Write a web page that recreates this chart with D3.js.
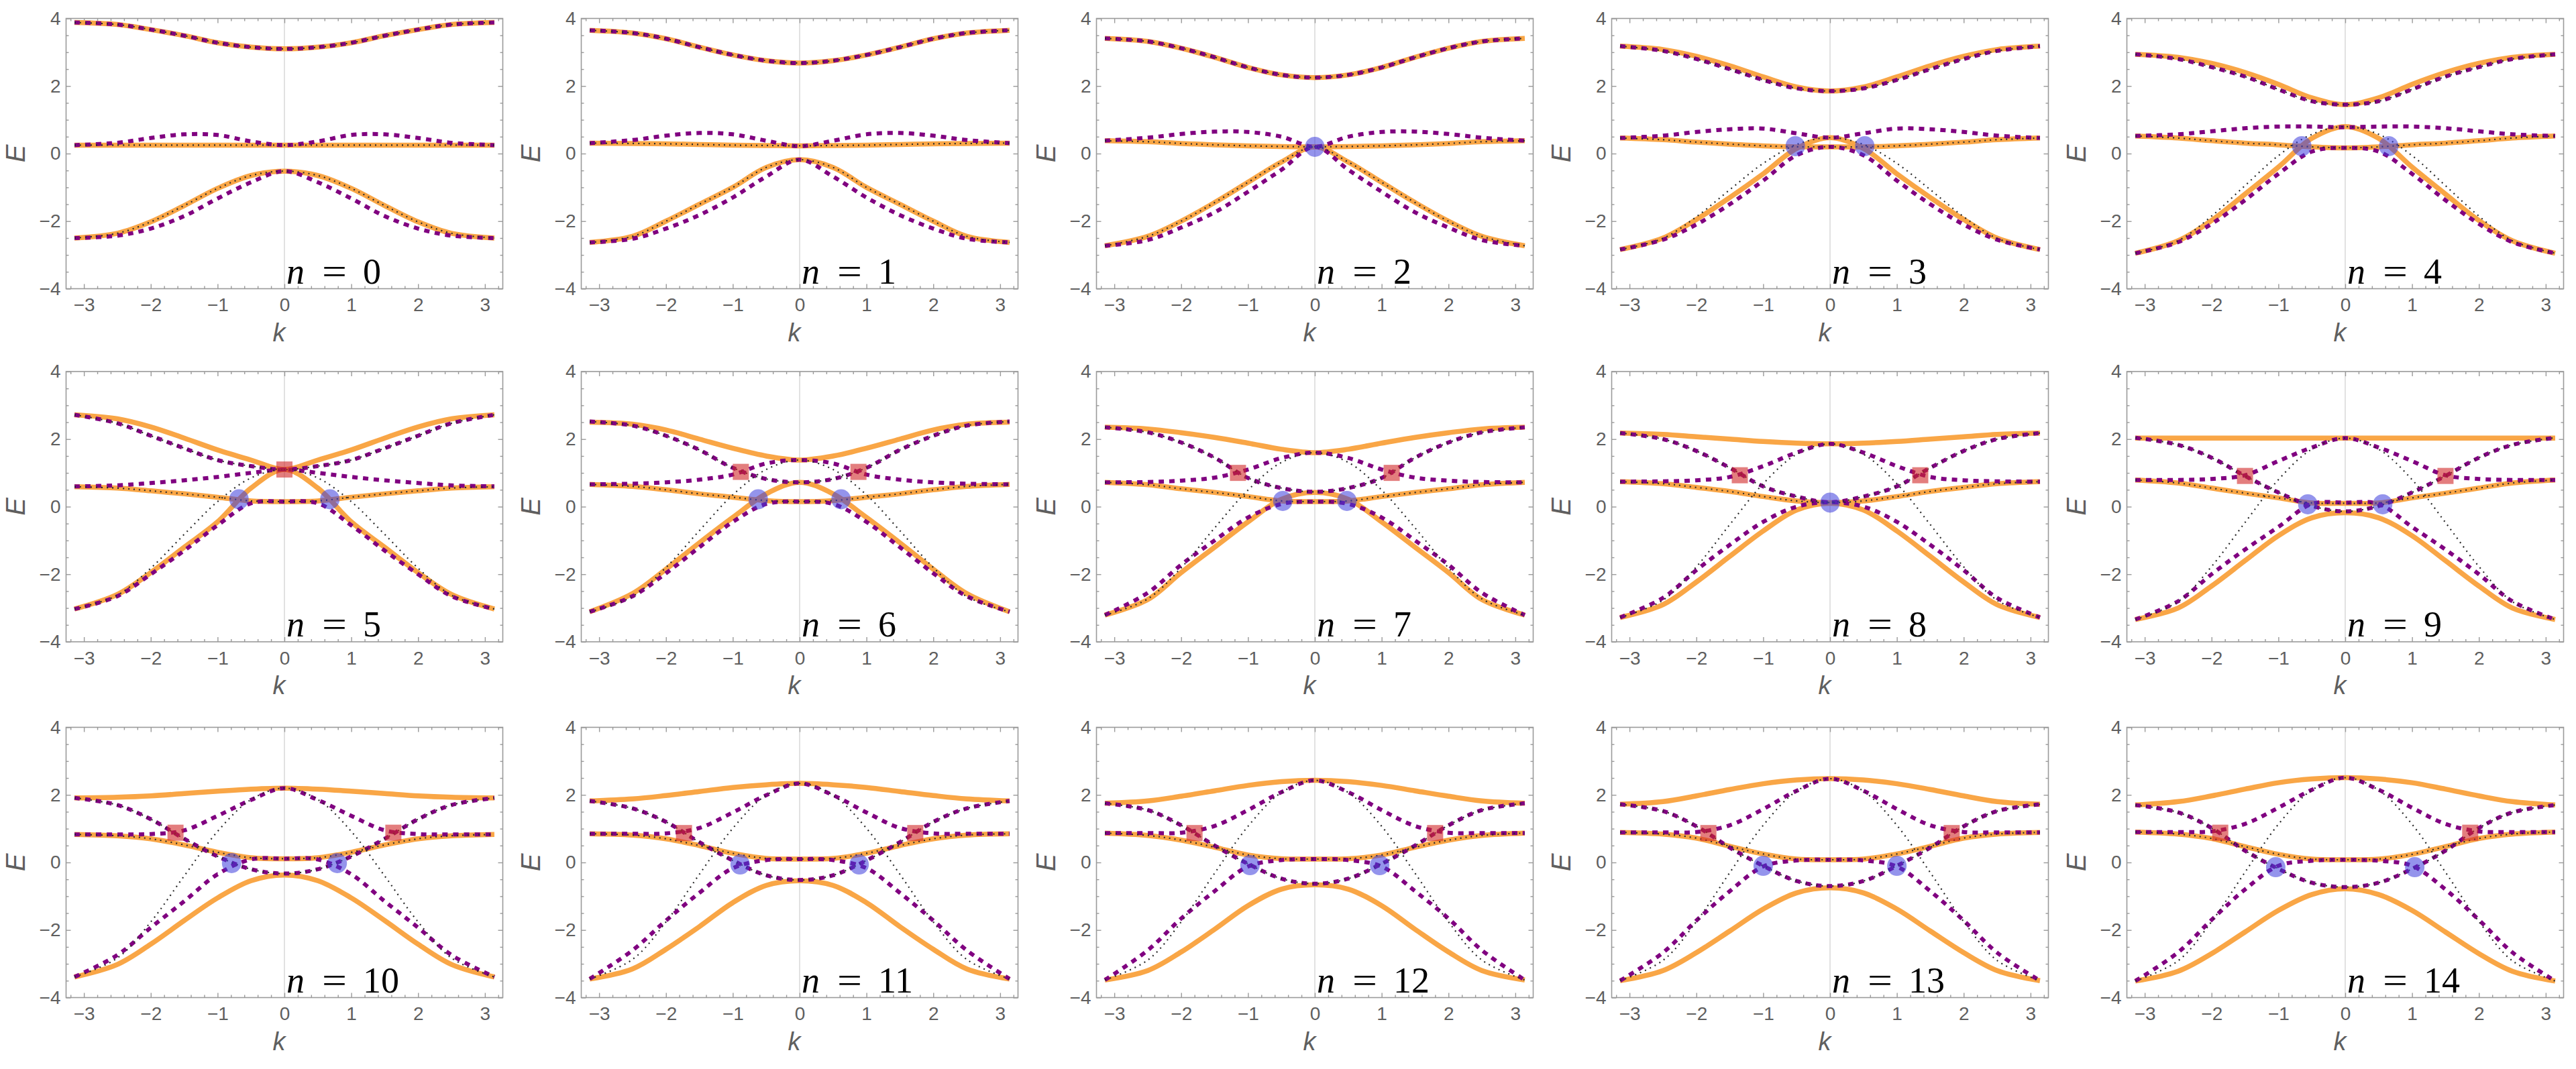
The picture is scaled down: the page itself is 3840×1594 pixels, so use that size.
<!DOCTYPE html>
<html>
<head>
<meta charset="utf-8">
<script src="https://cdn.jsdelivr.net/npm/d3@7"></script>
<style>
  html, body { margin: 0; padding: 0; background: #fff; }
  svg { display: block; }
</style>
</head>
<body>
<div id="chart"></div>
<script>
// half of the k axis, curves are even in k so the left half is mirrored
var kHalf = [0, 0.5, 1, 1.5, 2, 2.5, Math.PI];
var panelN = [0, 1, 2, 3, 4, 5, 6, 7, 8, 9, 10, 11, 12, 13, 14];

// orange solid bands (one row per panel, values at kHalf)
var orangeTop = [
  [3.1, 3.15, 3.28, 3.49, 3.67, 3.82, 3.88],
  [2.68, 2.75, 2.92, 3.15, 3.4, 3.57, 3.65],
  [2.25, 2.33, 2.55, 2.85, 3.12, 3.32, 3.41],
  [1.85, 1.97, 2.27, 2.6, 2.88, 3.08, 3.18],
  [1.45, 1.65, 2.05, 2.4, 2.67, 2.85, 2.94],
  [1.1, 1.38, 1.68, 2.03, 2.36, 2.6, 2.72],
  [1.38, 1.5, 1.73, 2.0, 2.27, 2.44, 2.5],
  [1.6, 1.7, 1.88, 2.05, 2.19, 2.3, 2.35],
  [1.86, 1.88, 1.93, 2.0, 2.07, 2.14, 2.18],
  [2.03, 2.03, 2.03, 2.03, 2.03, 2.03, 2.03],
  [2.2, 2.17, 2.11, 2.04, 1.97, 1.93, 1.91],
  [2.34, 2.3, 2.22, 2.1, 1.98, 1.88, 1.82],
  [2.43, 2.39, 2.28, 2.12, 1.96, 1.82, 1.75],
  [2.48, 2.44, 2.33, 2.16, 1.97, 1.8, 1.72],
  [2.51, 2.47, 2.36, 2.17, 1.97, 1.8, 1.7]
];
var orangeMid = [
  [0.25, 0.25, 0.25, 0.25, 0.25, 0.25, 0.25],
  [0.23, 0.24, 0.25, 0.27, 0.29, 0.3, 0.31],
  [0.2, 0.21, 0.23, 0.26, 0.3, 0.35, 0.38],
  [0.2, 0.2, 0.23, 0.28, 0.34, 0.41, 0.46],
  [0.17, 0.2, 0.26, 0.31, 0.38, 0.46, 0.52],
  [0.15, 0.17, 0.28, 0.38, 0.47, 0.55, 0.59],
  [0.15, 0.18, 0.28, 0.38, 0.5, 0.6, 0.66],
  [0.15, 0.17, 0.3, 0.42, 0.53, 0.65, 0.72],
  [0.12, 0.17, 0.3, 0.45, 0.57, 0.68, 0.74],
  [0.1, 0.11, 0.26, 0.4, 0.55, 0.7, 0.79],
  [0.11, 0.14, 0.3, 0.52, 0.7, 0.79, 0.83],
  [0.1, 0.12, 0.27, 0.5, 0.7, 0.81, 0.85],
  [0.1, 0.11, 0.22, 0.45, 0.66, 0.8, 0.87],
  [0.08, 0.1, 0.25, 0.48, 0.72, 0.84, 0.89],
  [0.08, 0.1, 0.24, 0.47, 0.71, 0.84, 0.9]
];
var orangeLow = [
  [-0.52, -0.65, -1.03, -1.54, -2.02, -2.36, -2.5],
  [-0.18, -0.41, -1.0, -1.5, -2.0, -2.45, -2.63],
  [0.2, -0.25, -0.85, -1.45, -2.0, -2.45, -2.73],
  [0.47, 0.15, -0.6, -1.3, -1.95, -2.5, -2.84],
  [0.8, 0.45, -0.4, -1.2, -1.98, -2.58, -2.95],
  [1.1, 0.55, -0.45, -1.2, -1.95, -2.6, -3.03],
  [0.72, 0.38, -0.32, -1.07, -1.85, -2.57, -3.11],
  [0.42, 0.22, -0.45, -1.2, -1.95, -2.75, -3.21],
  [0.1, -0.1, -0.72, -1.47, -2.23, -2.9, -3.28],
  [-0.18, -0.33, -0.86, -1.6, -2.35, -3.0, -3.34],
  [-0.37, -0.54, -1.05, -1.72, -2.42, -3.02, -3.39],
  [-0.54, -0.68, -1.19, -1.9, -2.57, -3.15, -3.45],
  [-0.66, -0.79, -1.28, -1.98, -2.65, -3.2, -3.48],
  [-0.75, -0.9, -1.38, -2.03, -2.67, -3.2, -3.5],
  [-0.78, -0.95, -1.42, -2.06, -2.7, -3.22, -3.51]
];

// purple dashed bands
var purpleA = [
  [3.1, 3.15, 3.28, 3.49, 3.67, 3.82, 3.88],
  [2.68, 2.75, 2.92, 3.15, 3.4, 3.57, 3.65],
  [2.25, 2.33, 2.55, 2.85, 3.12, 3.32, 3.41],
  [1.85, 1.93, 2.18, 2.5, 2.8, 3.04, 3.18],
  [1.45, 1.55, 1.9, 2.28, 2.56, 2.8, 2.94],
  [1.1, 1.2, 1.38, 1.73, 2.1, 2.47, 2.72],
  [0.72, 0.82, 1.15, 1.68, 2.1, 2.4, 2.52],
  [0.44, 0.55, 0.85, 1.45, 1.9, 2.2, 2.35],
  [0.13, 0.3, 0.6, 1.15, 1.65, 2.0, 2.18],
  [-0.14, 0.02, 0.42, 0.91, 1.45, 1.83, 2.04],
  [-0.33, -0.2, 0.18, 0.7, 1.28, 1.7, 1.91],
  [-0.52, -0.38, 0.06, 0.6, 1.2, 1.6, 1.82],
  [-0.63, -0.48, -0.04, 0.5, 1.1, 1.55, 1.75],
  [-0.7, -0.55, -0.1, 0.44, 1.07, 1.52, 1.72],
  [-0.73, -0.6, -0.19, 0.35, 1.02, 1.48, 1.7]
];
var purpleB = [
  [0.25, 0.36, 0.55, 0.57, 0.46, 0.32, 0.25],
  [0.22, 0.38, 0.57, 0.61, 0.53, 0.4, 0.31],
  [0.2, 0.5, 0.64, 0.65, 0.58, 0.47, 0.38],
  [0.47, 0.6, 0.74, 0.72, 0.64, 0.53, 0.46],
  [0.78, 0.8, 0.8, 0.75, 0.66, 0.57, 0.52],
  [1.1, 1.0, 0.88, 0.78, 0.7, 0.63, 0.6],
  [1.38, 1.28, 0.95, 0.8, 0.72, 0.68, 0.66],
  [1.6, 1.44, 1.1, 0.86, 0.77, 0.73, 0.72],
  [1.86, 1.6, 1.2, 0.88, 0.78, 0.75, 0.74],
  [2.03, 1.75, 1.35, 0.93, 0.82, 0.79, 0.79],
  [2.2, 1.85, 1.38, 0.95, 0.84, 0.83, 0.83],
  [2.34, 1.99, 1.48, 1.02, 0.86, 0.85, 0.85],
  [2.43, 2.08, 1.55, 1.08, 0.88, 0.87, 0.87],
  [2.48, 2.12, 1.58, 1.1, 0.9, 0.89, 0.89],
  [2.51, 2.15, 1.62, 1.14, 0.92, 0.9, 0.9]
];
var purpleC = [
  [-0.52, -0.85, -1.33, -1.85, -2.22, -2.43, -2.5],
  [-0.18, -0.68, -1.3, -1.82, -2.22, -2.52, -2.63],
  [0.2, -0.48, -1.13, -1.74, -2.19, -2.56, -2.73],
  [0.2, -0.05, -0.8, -1.5, -2.1, -2.55, -2.84],
  [0.17, 0.06, -0.6, -1.38, -2.08, -2.62, -2.95],
  [0.15, 0.1, -0.55, -1.3, -2.0, -2.65, -3.03],
  [0.15, 0.08, -0.45, -1.2, -1.97, -2.65, -3.11],
  [0.15, 0.08, -0.32, -1.0, -1.72, -2.55, -3.21],
  [0.13, 0.0, -0.45, -1.13, -1.88, -2.7, -3.28],
  [0.12, 0.08, -0.6, -1.27, -2.0, -2.8, -3.34],
  [0.11, 0.09, -0.35, -1.15, -1.93, -2.74, -3.39],
  [0.1, 0.07, -0.17, -0.9, -1.72, -2.6, -3.45],
  [0.1, 0.07, -0.12, -0.85, -1.66, -2.6, -3.48],
  [0.08, 0.06, -0.12, -0.85, -1.72, -2.67, -3.5],
  [0.08, 0.05, -0.1, -0.8, -1.7, -2.66, -3.51]
];

// thin black dotted band that runs from the bottom edge up to k = 0
var dottedLow = [
  [-0.52, -0.65, -1.03, -1.54, -2.02, -2.36, -2.5],
  [-0.18, -0.41, -1.0, -1.5, -2.0, -2.45, -2.63],
  [0.2, -0.25, -0.85, -1.45, -2.0, -2.45, -2.73],
  [0.47, 0.27, -0.29, -1.07, -1.87, -2.51, -2.84],
  [0.8, 0.57, -0.06, -0.95, -1.85, -2.58, -2.95],
  [1.1, 0.85, 0.15, -0.82, -1.82, -2.62, -3.03],
  [1.38, 1.1, 0.35, -0.71, -1.8, -2.66, -3.11],
  [1.6, 1.31, 0.49, -0.63, -1.81, -2.73, -3.21],
  [1.86, 1.55, 0.68, -0.53, -1.78, -2.77, -3.28],
  [2.03, 1.7, 0.8, -0.47, -1.77, -2.81, -3.34],
  [2.2, 1.86, 0.92, -0.4, -1.76, -2.83, -3.39],
  [2.34, 1.99, 1.01, -0.35, -1.76, -2.87, -3.45],
  [2.43, 2.07, 1.07, -0.32, -1.76, -2.89, -3.48],
  [2.48, 2.11, 1.1, -0.3, -1.75, -2.9, -3.5],
  [2.51, 2.14, 1.13, -0.29, -1.75, -2.91, -3.51]
];

// markers [k, E] for k >= 0, mirrored to -k
var blueMarks = [
  [], [], [[0, 0.2]], [[0.52, 0.22]], [[0.65, 0.22]],
  [[0.68, 0.22]], [[0.62, 0.22]], [[0.48, 0.17]], [[0, 0.12]], [[0.56, 0.07]],
  [[0.79, -0.02]], [[0.89, -0.06]], [[0.97, -0.08]], [[1.0, -0.1]], [[1.04, -0.14]]
];
var redMarks = [
  [], [], [], [], [],
  [[0, 1.1]], [[0.88, 1.03]], [[1.15, 1.0]], [[1.35, 0.93]], [[1.5, 0.91]],
  [[1.63, 0.88]], [[1.73, 0.87]], [[1.8, 0.87]], [[1.82, 0.87]], [[1.87, 0.88]]
];

var xTicks = [-3, -2, -1, 0, 1, 2, 3];
var yTicks = [-4, -2, 0, 2, 4];
var xMinor = d3.range(-3.2, 3.21, 0.2).filter(function(v) { return Math.abs(v - Math.round(v)) > 0.01; });
var yMinor = d3.range(-4, 4.01, 0.5).filter(function(v) { return Math.abs(v / 2 - Math.round(v / 2)) > 0.01; });

var width = 3840,
    height = 1594,
    colLeft = 98.5,
    colStep = 768,
    plotW = 651,
    plotH = 403,
    rowTop = [27.5, 554, 1084.5];

var orange = '#F9A646', purple = '#800080', tickGray = '#9a9a9a', labelGray = '#5f5f5f';
var sans = "'Liberation Sans', Arial, sans-serif";
var intFmt = d3.format('d');

function mirror(vals) {
  var pts = [];
  for (var i = kHalf.length - 1; i > 0; i--) pts.push([-kHalf[i], vals[i]]);
  for (var j = 0; j < kHalf.length; j++) pts.push([kHalf[j], vals[j]]);
  return pts;
}
function both(marks) {
  var out = [];
  marks.forEach(function(m) {
    out.push(m);
    if (m[0] !== 0) out.push([-m[0], m[1]]);
  });
  return out;
}

var svg = d3.select('#chart').append('svg')
    .attr('width', width)
    .attr('height', height)
    .style('background', '#fff');

panelN.forEach(function(n, i) {
  var col = i % 5, row = Math.floor(i / 5);
  var left = colLeft + col * colStep, top = rowTop[row];

  var x = d3.scaleLinear().domain([-Math.PI * 1.04, Math.PI * 1.04]).range([left, left + plotW]);
  var y = d3.scaleLinear().domain([-4, 4]).range([top + plotH, top]);
  var line = d3.line()
      .x(function(d) { return x(d[0]); })
      .y(function(d) { return y(d[1]); })
      .curve(d3.curveCatmullRom.alpha(0.5));

  var g = svg.append('g');

  // k = 0 axis line
  g.append('line')
      .attr('x1', x(0)).attr('x2', x(0))
      .attr('y1', y(-4)).attr('y2', y(4))
      .attr('stroke', '#d2d2d2').attr('stroke-width', 1.3);

  // ticks, all pointing inwards
  function tickAxis(axis, tx, ty) {
    var a = g.append('g')
        .attr('transform', 'translate(' + tx + ',' + ty + ')')
        .call(axis);
    a.attr('color', tickGray)
        .attr('font-family', sans)
        .attr('font-size', 28);
    a.select('.domain').remove();
    a.selectAll('line').attr('stroke-width', 1.4);
    a.selectAll('text').attr('fill', labelGray);
    return a;
  }
  tickAxis(d3.axisBottom(x).tickValues(xTicks).tickSize(-7).tickPadding(14).tickFormat(intFmt), 0, top + plotH);
  tickAxis(d3.axisBottom(x).tickValues(xMinor).tickSize(-4).tickFormat(''), 0, top + plotH);
  tickAxis(d3.axisTop(x).tickValues(xTicks).tickSize(-7).tickFormat(''), 0, top);
  tickAxis(d3.axisTop(x).tickValues(xMinor).tickSize(-4).tickFormat(''), 0, top);
  tickAxis(d3.axisLeft(y).tickValues(yTicks).tickSize(-7).tickPadding(8).tickFormat(intFmt), left, 0);
  tickAxis(d3.axisLeft(y).tickValues(yMinor).tickSize(-4).tickFormat(''), left, 0);
  tickAxis(d3.axisRight(y).tickValues(yTicks).tickSize(-7).tickFormat(''), left + plotW, 0);
  tickAxis(d3.axisRight(y).tickValues(yMinor).tickSize(-4).tickFormat(''), left + plotW, 0);

  // frame
  g.append('rect')
      .attr('x', left).attr('y', top)
      .attr('width', plotW).attr('height', plotH)
      .attr('fill', 'none')
      .attr('stroke', tickGray).attr('stroke-width', 1.6);

  // orange solid bands
  [orangeTop[i], orangeMid[i], orangeLow[i]].forEach(function(vals) {
    g.append('path')
        .attr('d', line(mirror(vals)))
        .attr('fill', 'none')
        .attr('stroke', orange)
        .attr('stroke-width', 7.5);
  });

  // purple dashed bands
  [purpleA[i], purpleB[i], purpleC[i]].forEach(function(vals) {
    g.append('path')
        .attr('d', line(mirror(vals)))
        .attr('fill', 'none')
        .attr('stroke', purple)
        .attr('stroke-width', 6)
        .attr('stroke-dasharray', '8 8');
  });

  // black dotted bands
  [purpleA[i], orangeMid[i], dottedLow[i]].forEach(function(vals) {
    g.append('path')
        .attr('d', line(mirror(vals)))
        .attr('fill', 'none')
        .attr('stroke', '#2a2a2a')
        .attr('stroke-width', 2.2)
        .attr('stroke-dasharray', '2 6');
  });

  // markers
  g.selectAll('ellipse.blue').data(both(blueMarks[i])).enter().append('ellipse')
      .attr('cx', function(d) { return x(d[0]); })
      .attr('cy', function(d) { return y(d[1]); })
      .attr('rx', 14.5).attr('ry', 15)
      .attr('fill', '#3c3cdc').attr('fill-opacity', 0.55);
  g.selectAll('rect.red').data(both(redMarks[i])).enter().append('rect')
      .attr('x', function(d) { return x(d[0]) - 12; })
      .attr('y', function(d) { return y(d[1]) - 12; })
      .attr('width', 24).attr('height', 24)
      .attr('fill', '#d02828').attr('fill-opacity', 0.6);

  // axis labels
  g.append('text')
      .attr('transform', 'translate(' + (left - 62) + ',' + (top + plotH / 2) + ') rotate(-90)')
      .attr('text-anchor', 'middle')
      .attr('font-family', sans).attr('font-style', 'italic')
      .attr('font-size', 40).attr('fill', labelGray)
      .text('E');
  g.append('text')
      .attr('x', left + plotW / 2 - 8).attr('y', top + plotH + 78)
      .attr('text-anchor', 'middle')
      .attr('font-family', sans).attr('font-style', 'italic')
      .attr('font-size', 38).attr('fill', labelGray)
      .text('k');

  // panel label n = ...
  var lab = g.append('text')
      .attr('y', top + plotH - 8)
      .attr('font-family', "'Liberation Serif', 'DejaVu Serif', serif")
      .attr('font-size', 54).attr('fill', '#000');
  lab.append('tspan').attr('x', x(0) + 3).attr('font-style', 'italic').text('n');
  lab.append('tspan').attr('x', x(0) + 56)
      .attr('textLength', 37).attr('lengthAdjust', 'spacingAndGlyphs').text('=');
  lab.append('tspan').attr('x', x(0) + 117).text(n);
});
</script>
</body>
</html>
